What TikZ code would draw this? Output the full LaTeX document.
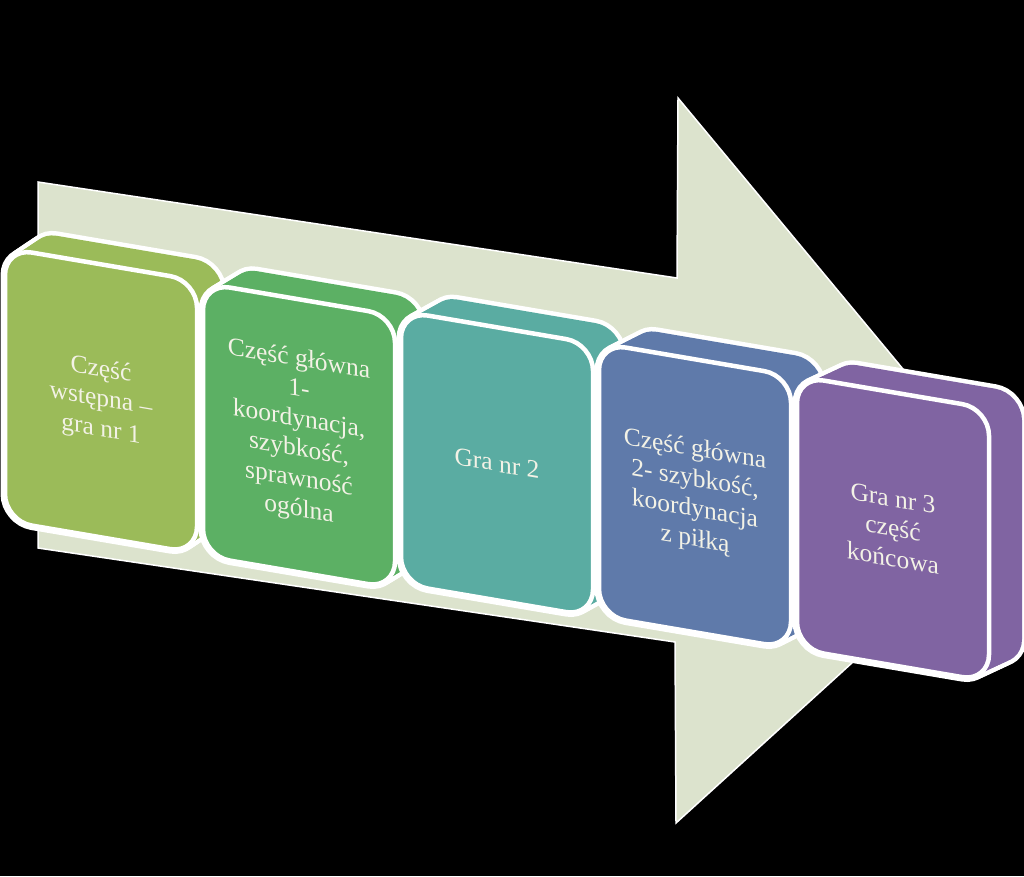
\documentclass[tikz,border=0pt]{standalone}
\usepackage{fontspec}
\setmainfont{Liberation Serif}
\usepackage{tikz}

\definecolor{jasny}{HTML}{DCE3CD}
\definecolor{kolA}{HTML}{9BBB59}
\definecolor{kolB}{HTML}{5CB064}
\definecolor{kolC}{HTML}{5AACA2}
\definecolor{kolD}{HTML}{5F7AAA}
\definecolor{kolE}{HTML}{8064A2}
\definecolor{krem}{HTML}{F3F2E6}

\begin{document}
\begin{tikzpicture}[x=1pt,y=-1pt,
  strzalka/.style={fill=jasny,draw=white,line width=1.5,line join=miter},
  krawedz/.style={draw=white,line width=9,rounded corners=27},
  bryla/.style={rounded corners=27},
  sciana/.style={draw=white,line width=4.5,rounded corners=27},
  napis/.style={text=krem,align=center,transform shape,font=\fontsize{25.5}{30}\selectfont}]
\fill[black] (0,0) rectangle (1024,876);
\useasboundingbox (0,0) rectangle (1024,876);

\draw[strzalka] (38,182) -- (677,278) -- (678,98) -- (1020,510) -- (676,823) -- (675,642) -- (38,548) -- cycle;

\begin{scope}[shift={(5,248)},yslant=-0.17]
\foreach \t in {0,...,10} \draw[krawedz] (2.5*\t,-2.1*\t) rectangle +(192,273);
\foreach \t in {0,...,10} \fill[bryla,kolA] (2.5*\t,-2.1*\t) rectangle +(192,273);
\draw[sciana,fill=kolA] (0,0) rectangle (192,273);
\node[napis] (etap1) at (96,136) {Część\\wstępna –\\gra nr 1};
\end{scope}

\begin{scope}[shift={(203,283)},yslant=-0.17]
\foreach \t in {0,...,10} \draw[krawedz] (2.7*\t,-2.1*\t) rectangle +(192,273);
\foreach \t in {0,...,10} \fill[bryla,kolB] (2.7*\t,-2.1*\t) rectangle +(192,273);
\draw[sciana,fill=kolB] (0,0) rectangle (192,273);
\node[napis] (etap2) at (96,136) {Część główna\\1-\\koordynacja,\\szybkość,\\sprawność\\ogólna};
\end{scope}

\begin{scope}[shift={(401,311)},yslant=-0.17]
\foreach \t in {0,...,10} \draw[krawedz] (2.9*\t,-2.1*\t) rectangle +(192,273);
\foreach \t in {0,...,10} \fill[bryla,kolC] (2.9*\t,-2.1*\t) rectangle +(192,273);
\draw[sciana,fill=kolC] (0,0) rectangle (192,273);
\node[napis] (etap3) at (96,136) {Gra nr 2};
\end{scope}

\begin{scope}[shift={(599,343)},yslant=-0.17]
\foreach \t in {0,...,10} \draw[krawedz] (3.1*\t,-2.1*\t) rectangle +(192,273);
\foreach \t in {0,...,10} \fill[bryla,kolD] (3.1*\t,-2.1*\t) rectangle +(192,273);
\draw[sciana,fill=kolD] (0,0) rectangle (192,273);
\node[napis] (etap4) at (96,136) {Część główna\\2- szybkość,\\koordynacja\\z piłką};
\end{scope}

\begin{scope}[shift={(797,376)},yslant=-0.17]
\foreach \t in {0,...,10} \draw[krawedz] (3.3*\t,-2.1*\t) rectangle +(192,273);
\foreach \t in {0,...,10} \fill[bryla,kolE] (3.3*\t,-2.1*\t) rectangle +(192,273);
\draw[sciana,fill=kolE] (0,0) rectangle (192,273);
\node[napis] (etap5) at (96,136) {Gra nr 3\\część\\końcowa};
\end{scope}
\end{tikzpicture}
\end{document}
